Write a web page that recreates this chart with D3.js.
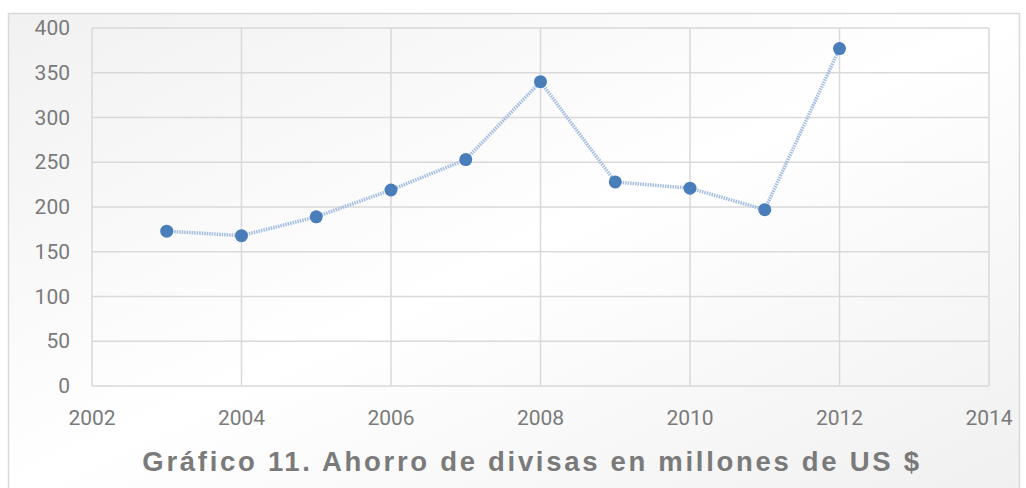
<!DOCTYPE html>
<meta charset="utf-8">
<script src="https://d3js.org/d3.v7.min.js"></script>
<style>
  body { margin: 0; background: #fff; }
</style>
<div id="main"></div>
<script>

var width = 1026
var height = 488

// values
var years = [2003, 2004, 2005, 2006, 2007, 2008, 2009, 2010, 2011, 2012]
var ahorro = [173, 168, 189, 219, 253, 340, 228, 221, 197, 377]
var xTicks = [2002, 2004, 2006, 2008, 2010, 2012, 2014]
var yTicks = [0, 50, 100, 150, 200, 250, 300, 350, 400]
var title = "Gráfico 11. Ahorro de divisas en millones de US $"

var svg = d3.select("#main")
  .append("svg")
    .attr("width", width)
    .attr("height", height)

var defs = svg.append("defs")
var bg = defs.append("linearGradient")
    .attr("id", "bg")
    .attr("x1", "0").attr("y1", "0").attr("x2", "1").attr("y2", "1")
bg.append("stop").attr("offset", "0").attr("stop-color", "#f1f1f1")
bg.append("stop").attr("offset", "0.5").attr("stop-color", "#ffffff")
bg.append("stop").attr("offset", "1").attr("stop-color", "#f0f0f0")

// chart frame
svg.append("rect")
    .attr("x", 8.5).attr("y", 13.5)
    .attr("width", 1011).attr("height", 480)
    .attr("fill", "url(#bg)")
    .attr("stroke", "#d9d9d9")
    .attr("stroke-width", 1.5)

var x = d3.scaleLinear().domain([2002, 2014]).range([92, 989])
var y = d3.scaleLinear().domain([0, 400]).range([386, 28])

// grid
svg.append("g")
  .selectAll("line")
  .data(yTicks)
  .enter()
  .append("line")
    .attr("x1", x(2002)).attr("x2", x(2014))
    .attr("y1", d => y(d)).attr("y2", d => y(d))
    .attr("stroke", "#d9d9d9")
    .attr("stroke-width", 1.5)

svg.append("g")
  .selectAll("line")
  .data(xTicks)
  .enter()
  .append("line")
    .attr("x1", d => x(d)).attr("x2", d => x(d))
    .attr("y1", y(0)).attr("y2", y(400))
    .attr("stroke", "#d9d9d9")
    .attr("stroke-width", 1.5)

// tick labels
svg.append("g")
  .selectAll("text")
  .data(yTicks)
  .enter()
  .append("text")
    .attr("x", 70)
    .attr("y", d => y(d) + 7)
    .attr("text-anchor", "end")
    .style("font-family", "Roboto, 'Liberation Sans', sans-serif")
    .style("font-size", "21px")
    .style("fill", "#7a7a7a")
    .text(d => d)

svg.append("g")
  .selectAll("text")
  .data(xTicks)
  .enter()
  .append("text")
    .attr("x", d => x(d))
    .attr("y", 425)
    .attr("text-anchor", "middle")
    .style("font-family", "Roboto, 'Liberation Sans', sans-serif")
    .style("font-size", "21px")
    .style("fill", "#7a7a7a")
    .text(d => d)

// line
var data = years.map((yr, i) => ({ year: yr, value: ahorro[i] }))

var line = d3.line()
    .x(d => x(d.year))
    .y(d => y(d.value))

svg.append("path")
    .datum(data)
    .attr("d", line)
    .attr("fill", "none")
    .attr("stroke", "#a3bde0")
    .attr("stroke-width", 3.5)
    .attr("stroke-dasharray", "1.5,1")

svg.append("g")
  .selectAll("circle")
  .data(data)
  .enter()
  .append("circle")
    .attr("cx", d => x(d.year))
    .attr("cy", d => y(d.value))
    .attr("r", 6.5)
    .attr("fill", "#4a7ebb")

// title
svg.append("text")
    .attr("x", 532)
    .attr("y", 471)
    .attr("text-anchor", "middle")
    .style("font-family", "'Liberation Sans', Arial, sans-serif")
    .style("font-weight", "bold")
    .style("font-size", "27.5px")
    .style("letter-spacing", "2.7px")
    .style("fill", "#7a7a7a")
    .text(title)

</script>
